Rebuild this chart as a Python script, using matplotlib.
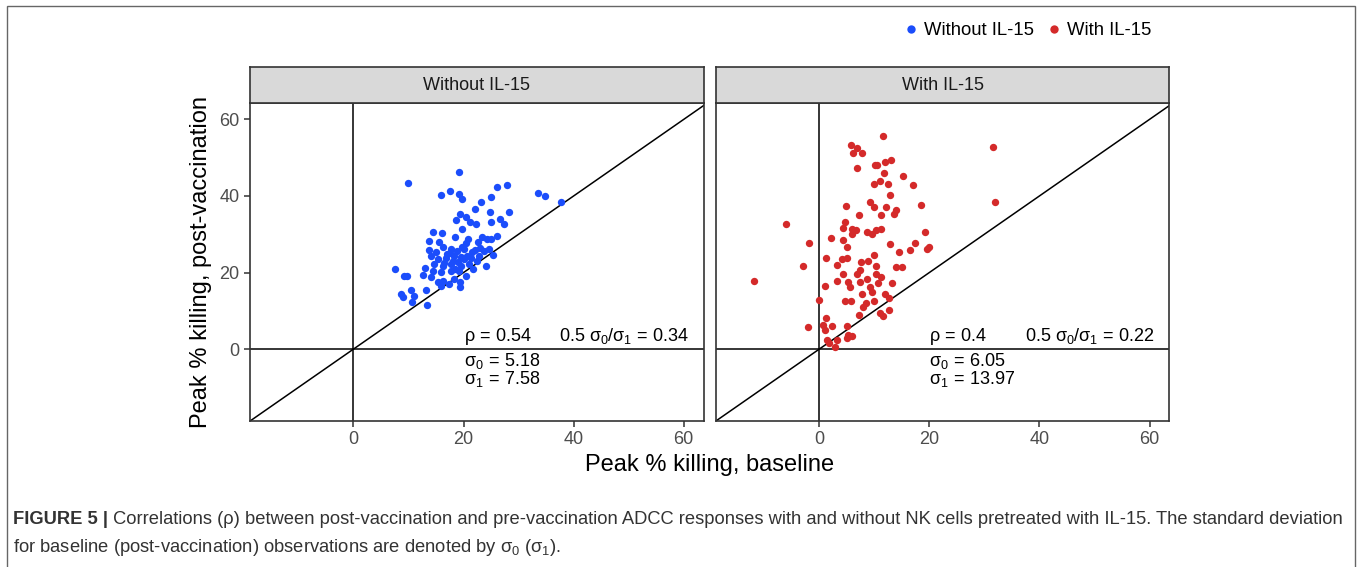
import matplotlib
matplotlib.use("Agg")
import matplotlib.pyplot as plt
from matplotlib.lines import Line2D
from matplotlib.patches import Rectangle

plt.rcParams['font.family'] = ['Liberation Sans', 'DejaVu Sans']
plt.rcParams['mathtext.fontset'] = 'custom'
plt.rcParams['mathtext.rm'] = 'Liberation Sans'
plt.rcParams['mathtext.it'] = 'Liberation Sans'
plt.rcParams['mathtext.sf'] = 'Liberation Sans'

panels = ["Without IL-15", "With IL-15"]
colors = ["#1B4DFB", "#D42A2A"]

# peak % killing: baseline (x) vs post-vaccination (y)
without_x = [19.2, 10.0, 15.9, 17.5, 19.2, 19.8, 26.1, 27.9, 24.9, 23.1, 33.5, 34.8, 37.7,
             22.0, 24.8, 28.3, 19.4, 18.6, 20.4, 21.1, 22.2, 24.9, 26.7, 27.4, 19.7, 14.5,
             16.0, 18.5, 20.9, 23.3, 24.3, 26.1, 13.7, 15.6, 22.7, 25.0, 13.8, 16.2, 17.7,
             18.8, 20.1, 21.6, 23.7, 24.6, 25.4, 14.1, 15.3, 16.8, 18.3, 19.5, 20.7, 22.5,
             24.0, 13.0, 14.7, 16.2, 17.7, 19.5, 21.0, 7.5, 12.6, 14.4, 15.9, 17.7, 19.2,
             20.4, 9.1, 9.7, 14.0, 15.3, 16.2, 17.4, 18.3, 19.4, 19.4, 8.7, 9.0, 10.5, 11.0,
             10.6, 13.2, 13.4, 15.9, 17.0, 18.0, 19.0, 20.0, 21.3, 22.0, 16.5, 17.5, 19.8,
             21.8, 18.5, 15.0, 23.0, 20.5, 22.8]
without_y = [46.3, 43.3, 40.3, 41.2, 40.6, 39.1, 42.3, 42.8, 39.8, 38.5, 40.7, 40.1, 38.5,
             36.5, 35.7, 35.9, 35.2, 33.8, 34.4, 33.3, 32.8, 33.2, 33.9, 32.8, 31.3, 30.5,
             30.3, 29.4, 28.7, 29.4, 28.7, 29.6, 28.3, 27.9, 27.9, 28.7, 25.9, 26.6, 26.1,
             25.7, 26.1, 25.3, 25.7, 26.1, 24.7, 24.2, 23.5, 23.8, 24.2, 24.0, 24.4, 23.1,
             21.6, 21.2, 22.1, 21.8, 22.3, 21.8, 22.1, 20.8, 19.4, 20.3, 20.1, 20.3, 20.5,
             19.2, 19.0, 19.2, 18.8, 17.5, 17.9, 17.1, 18.4, 17.5, 16.2, 14.3, 13.6, 15.5,
             14.0, 12.4, 15.5, 11.6, 16.6, 24.8, 23.0, 22.8, 23.5, 23.7, 25.9, 22.6, 25.0,
             26.8, 20.8, 20.9, 25.3, 26.5, 27.8, 24.4]

with_x = [11.6, 5.7, 6.8, 6.2, 7.8, 31.6, 6.8, 10.1, 10.5, 11.9, 13.0, 11.7, 15.2, 9.9,
          11.0, 12.4, 17.1, 12.8, 31.9, 4.8, 9.2, 10.0, 12.1, 14.0, 13.6, 18.4, 7.2, 11.2,
          -6.1, 4.6, 4.3, 5.9, 6.7, 5.9, 8.6, 9.5, 10.3, 11.3, 19.2, 2.1, 4.3, 5.0, -1.9,
          12.8, 17.4, 16.5, 19.9, 19.6, 14.5, 1.2, 4.1, 5.0, 7.5, 8.9, 10.0, -2.9, 3.2,
          10.3, 14.0, 15.0, 7.4, 4.4, 6.9, 8.6, 10.4, 11.3, -11.8, 3.2, 5.3, 7.4, 9.2,
          10.7, 13.3, 1.0, 5.6, 9.5, 11.9, 7.8, 12.7, -0.1, 4.7, 5.8, 9.9, 8.5, 8.0, 7.3,
          12.7, 11.0, 11.6, 1.2, -2.1, 0.7, 2.3, 5.0, 1.1, 5.3, 5.9, 5.0, 1.4, 1.7, 3.2, 2.9]
with_y = [55.6, 53.4, 52.5, 51.1, 51.3, 52.7, 47.4, 48.1, 48.0, 48.9, 49.5, 45.9, 45.3, 43.0,
          43.9, 43.0, 42.9, 40.3, 38.3, 37.4, 38.4, 37.1, 37.2, 36.3, 35.4, 37.6, 35.1, 35.1,
          32.8, 33.3, 31.6, 31.3, 31.1, 30.0, 30.6, 30.0, 31.1, 31.3, 30.6, 28.9, 28.6, 26.8,
          27.6, 27.5, 27.7, 25.9, 26.8, 26.2, 25.3, 23.7, 23.5, 23.8, 22.7, 23.1, 24.7, 21.8,
          22.0, 21.6, 21.4, 21.4, 20.7, 19.5, 19.5, 18.4, 19.7, 18.8, 17.8, 17.9, 17.5, 17.5,
          16.2, 17.2, 17.3, 16.6, 16.2, 14.9, 14.5, 14.3, 13.4, 12.7, 12.6, 12.6, 12.5, 12.0,
          11.0, 9.0, 10.3, 9.4, 8.7, 8.0, 5.8, 6.2, 6.0, 6.0, 4.9, 3.6, 3.4, 2.8, 2.3, 1.6,
          2.3, 0.6]

rho = ["0.54", "0.4"]
ratio = ["0.34", "0.22"]
sigma0 = ["5.18", "6.05"]
sigma1 = ["7.58", "13.97"]

xs = [without_x, with_x]
ys = [without_y, with_y]

xlim = (-18.8, 63.6)
ylim = (-18.7, 64.2)

fig = plt.figure(figsize=(13.6, 5.67), dpi=100)

# outer frame of the figure
fig.patches.append(Rectangle((7 / 1360, -0.05), 1348 / 1360, 1.05 - 6 / 567,
                             transform=fig.transFigure, fill=False,
                             edgecolor="#666666", linewidth=1.0))

axes_left = [0.1838, 0.5263]
for i in range(2):
    ax = fig.add_axes([axes_left[i], 0.258, 0.3335, 0.5598])
    ax.axhline(0, color="black", lw=1.1, zorder=1)
    ax.axvline(0, color="black", lw=1.1, zorder=1)
    ax.plot([-100, 100], [-100, 100], color="black", lw=1.1, zorder=1)
    ax.scatter(xs[i], ys[i], s=28, color=colors[i], linewidths=0, zorder=3)
    ax.set_xlim(xlim)
    ax.set_ylim(ylim)
    ax.set_xticks([0, 20, 40, 60])
    ax.set_yticks([0, 20, 40, 60])
    ax.tick_params(colors="#333333", labelcolor="#4D4D4D", labelsize=13,
                   length=4, width=1.1)
    if i == 1:
        ax.tick_params(axis="y", left=False, labelleft=False)
    for sp in ax.spines.values():
        sp.set_color("#333333")
        sp.set_linewidth(1.2)

    ax.text(20, 3.4, r"$\rho\,=\,$" + rho[i], fontsize=13, va="center", ha="left")
    ax.text(61, 3.4, r"$0.5\ \sigma_0/\sigma_1\,=\,$" + ratio[i], fontsize=13,
            va="center", ha="right")
    ax.text(20, -0.5, r"$\sigma_0\,=\,$" + sigma0[i] + "\n" + r"$\sigma_1\,=\,$" + sigma1[i],
            fontsize=13, va="top", ha="left", linespacing=0.85)

    # facet strip
    strip = fig.add_axes([axes_left[i], 0.8178, 0.3335, 0.0635])
    strip.set_facecolor("#D9D9D9")
    strip.set_xticks([])
    strip.set_yticks([])
    for sp in strip.spines.values():
        sp.set_color("#333333")
        sp.set_linewidth(1.2)
    strip.text(0.5, 0.5, panels[i], ha="center", va="center", fontsize=13,
               color="#1A1A1A", transform=strip.transAxes)

fig.text(0.522, 0.18, "Peak % killing, baseline", ha="center", va="center", fontsize=17)
fig.text(0.148, 0.538, "Peak % killing, post-vaccination", ha="center", va="center",
         fontsize=17, rotation=90)

handles = [Line2D([], [], marker="o", linestyle="none", markersize=6,
                  markerfacecolor=c, markeredgewidth=0) for c in colors]
fig.legend(handles, panels, loc="upper right", bbox_to_anchor=(0.859, 0.99), ncol=2,
           frameon=False, fontsize=13.3, handletextpad=0.2, columnspacing=0.6,
           handlelength=1.0)

cap_size = 13.2
t = fig.text(13 / 1360, 1 - 520 / 567, "FIGURE 5 |", fontsize=cap_size, fontweight="bold",
             color="#333333", va="center")
ax.annotate(" Correlations (\u03c1) between post-vaccination and pre-vaccination ADCC responses "
            "with and without NK cells pretreated with IL-15. The standard deviation",
            xy=(1, 0.5), xycoords=t, va="center", ha="left", fontsize=cap_size,
            color="#333333", annotation_clip=False)
fig.text(13 / 1360, 1 - 547 / 567,
         r"for baseline (post-vaccination) observations are denoted by $\sigma_0$ ($\sigma_1$).",
         fontsize=cap_size, color="#333333", va="center")

fig.savefig("out.png", dpi=100)
